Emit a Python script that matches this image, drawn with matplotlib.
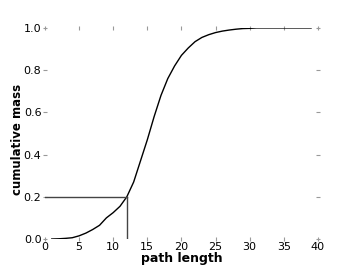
import numpy as np
from matplotlib import pyplot as plt

# кумулятивное распределение длины пути
path_len = np.arange(1, 40)
cum_mass = np.array([0.0, 0.001, 0.003, 0.006, 0.015, 0.028, 0.045, 0.065, 0.1,
                     0.125, 0.155, 0.2, 0.27, 0.37, 0.47, 0.58, 0.68, 0.76,
                     0.82, 0.87, 0.905, 0.935, 0.955, 0.968, 0.978, 0.985,
                     0.99, 0.994, 0.997, 0.998, 1.0, 1.0, 1.0, 1.0, 1.0,
                     1.0, 1.0, 1.0, 1.0])

# отметка на уровне 0.2
x_mark = 12
y_mark = 0.2

fig = plt.figure(figsize=(3.54, 2.66), dpi=100)
ax = fig.add_axes([0.127, 0.1015, 0.771, 0.7935])

ax.plot(path_len, cum_mass, color='black', linewidth=1)
ax.plot([0, x_mark], [y_mark, y_mark], color='#444444', linewidth=1)
ax.plot([x_mark, x_mark], [0, y_mark], color='#444444', linewidth=1)

ax.set_xlim(0, 40)
ax.set_ylim(0, 1)
ax.set_xticks([0, 5, 10, 15, 20, 25, 30, 35, 40])
ax.set_yticks([0.0, 0.2, 0.4, 0.6, 0.8, 1.0])

for s in ax.spines.values():
    s.set_visible(False)

ax.tick_params(axis='both', which='both', direction='inout', length=3,
               color='#999999', labelsize=8, pad=1,
               top=True, right=True)

ax.set_xlabel('path length', fontsize=9, fontweight='bold')
ax.set_ylabel('cumulative mass', fontsize=8.5, fontweight='bold')
ax.xaxis.set_label_coords(0.5, -0.062)
ax.yaxis.set_label_coords(-0.075, 0.47)

plt.savefig('out.png', dpi=100)
